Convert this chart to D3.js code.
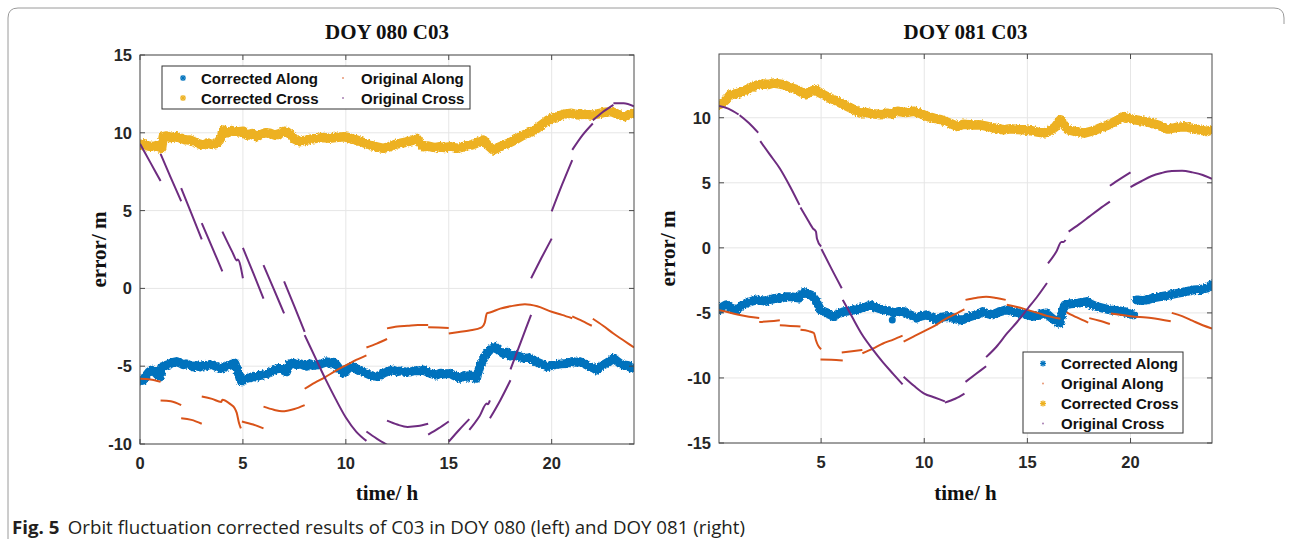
<!DOCTYPE html>
<html>
<head>
<meta charset="utf-8">
<script src="https://cdn.jsdelivr.net/npm/d3@7"></script>
<style>
  body { margin: 0; background: #fff; }
  svg { display: block; }
</style>
</head>
<body>
<svg id="fig" width="1290" height="539"></svg>
<script>
// ---------------- data (hours, metres) ----------------
const titles = ["DOY 080 C03", "DOY 081 C03"];
const xTicks080 = [0, 5, 10, 15, 20];
const yTicks080 = [-10, -5, 0, 5, 10, 15];
const xTicks081 = [5, 10, 15, 20];
const yTicks081 = [-15, -10, -5, 0, 5, 10];
const seriesNames = ["Corrected Along", "Original Along", "Corrected Cross", "Original Cross"];

// DOY 080 — corrected along-track error
const doy080CorrAlong = [
  [0.0,-5.95],[0.15,-5.9],[0.3,-5.6],[0.45,-5.35],[0.56,-5.25],[0.7,-5.35],[0.85,-5.55],[0.97,-5.7],
  [1.05,-5.05],[1.25,-4.95],[1.45,-4.85],[1.6,-4.75],[1.78,-4.7],[1.95,-4.8],[2.1,-4.9],[2.25,-4.85],
  [2.43,-4.95],[2.6,-5.05],[2.75,-4.95],[2.9,-5.05],[3.05,-4.95],[3.2,-5.0],[3.35,-4.9],[3.56,-4.93],
  [3.75,-5.05],[3.9,-5.15],[4.04,-5.1],[4.2,-5.0],[4.37,-4.93],[4.5,-4.85],[4.6,-4.8],[4.7,-5.1],
  [4.78,-5.45],[4.86,-5.8],[4.94,-6.0],[5.05,-5.85],[5.18,-5.78],[5.35,-5.75],[5.5,-5.65],[5.65,-5.7],
  [5.8,-5.6],[5.99,-5.57],[6.15,-5.5],[6.39,-5.36],[6.55,-5.2],[6.7,-5.15],[6.88,-5.14],[7.0,-5.3],
  [7.12,-5.36],[7.22,-5.0],[7.29,-4.82],[7.45,-4.8],[7.6,-4.9],[7.8,-4.85],[7.94,-4.93],[8.1,-5.0],
  [8.25,-4.85],[8.4,-4.95],[8.59,-4.93],[8.8,-4.85],[9.07,-4.71],[9.25,-4.85],[9.4,-4.75],[9.55,-4.93],
  [9.7,-5.2],[9.87,-5.46],[10.0,-5.3],[10.15,-5.1],[10.36,-5.03],[10.55,-5.2],[10.8,-5.35],[11.0,-5.46],
  [11.25,-5.6],[11.5,-5.67],[11.7,-5.55],[11.9,-5.4],[12.1,-5.3],[12.3,-5.25],[12.5,-5.35],[12.7,-5.3],
  [12.9,-5.4],[13.1,-5.36],[13.3,-5.3],[13.55,-5.3],[13.77,-5.25],[14.0,-5.4],[14.2,-5.5],[14.4,-5.57],
  [14.6,-5.45],[14.8,-5.5],[15.06,-5.46],[15.25,-5.6],[15.4,-5.7],[15.55,-5.78],[15.75,-5.6],[15.9,-5.7],
  [16.03,-5.57],[16.2,-5.7],[16.35,-5.78],[16.45,-5.3],[16.55,-4.9],[16.7,-4.5],[16.84,-4.18],[17.0,-3.95],
  [17.25,-3.75],[17.45,-4.0],[17.65,-4.18],[17.8,-4.1],[17.98,-4.35],[18.2,-4.3],[18.46,-4.39],[18.7,-4.5],
  [18.9,-4.45],[19.1,-4.6],[19.3,-4.75],[19.5,-4.85],[19.76,-5.03],[20.0,-4.95],[20.2,-4.9],[20.45,-4.85],
  [20.73,-4.82],[21.0,-4.7],[21.2,-4.75],[21.38,-4.71],[21.6,-4.85],[21.8,-5.0],[22.0,-5.1],[22.19,-5.25],
  [22.4,-5.0],[22.6,-4.85],[22.8,-4.7],[23.0,-4.5],[23.2,-4.7],[23.35,-4.85],[23.5,-4.93],[23.7,-4.95],
  [23.85,-5.1],[24.0,-5.14]
];

// DOY 080 — corrected cross-track error
const doy080CorrCross = [
  [0.0,9.2],[0.2,9.3],[0.4,9.15],[0.65,9.1],[0.85,9.2],[1.05,9.0],[1.13,9.75],[1.3,9.8],[1.5,9.7],
  [1.78,9.75],[2.0,9.65],[2.2,9.55],[2.43,9.54],[2.65,9.4],[2.85,9.3],[3.07,9.2],[3.3,9.35],[3.5,9.25],
  [3.72,9.32],[3.85,9.5],[3.96,9.75],[4.04,10.18],[4.25,10.0],[4.45,10.15],[4.7,10.05],[5.02,10.1],
  [5.2,9.85],[5.45,9.95],[5.67,9.75],[5.9,9.9],[6.1,10.0],[6.31,9.97],[6.55,9.85],[6.8,9.95],[7.0,10.1],
  [7.12,10.07],[7.3,9.9],[7.5,9.6],[7.77,9.43],[8.0,9.5],[8.3,9.6],[8.58,9.64],[8.9,9.7],[9.2,9.65],
  [9.5,9.7],[9.87,9.75],[10.1,9.7],[10.3,9.6],[10.52,9.54],[10.8,9.4],[11.0,9.3],[11.17,9.2],[11.5,9.1],
  [11.81,9.0],[12.1,9.1],[12.4,9.25],[12.63,9.32],[12.9,9.4],[13.2,9.5],[13.44,9.64],[13.6,9.35],
  [13.76,9.1],[14.0,9.15],[14.3,9.05],[14.57,9.1],[14.8,9.05],[15.1,9.1],[15.38,9.0],[15.6,9.05],
  [15.8,9.15],[16.03,9.2],[16.3,9.3],[16.5,9.45],[16.68,9.54],[16.9,9.2],[17.16,8.9],[17.4,9.05],
  [17.65,9.2],[17.85,9.3],[18.05,9.43],[18.3,9.6],[18.55,9.8],[18.8,9.95],[19.03,10.07],[19.3,10.3],
  [19.6,10.6],[19.8,10.8],[20.0,10.93],[20.3,11.05],[20.6,11.2],[20.97,11.25],[21.3,11.15],[21.6,11.2],
  [21.94,11.14],[22.2,11.2],[22.5,11.3],[22.91,11.36],[23.2,11.2],[23.56,11.04],[23.8,11.2],[24.0,11.25]
];

// DOY 080 — original along-track error, one array per arc
const doy080OrigAlong = [
  [[0,-5.8],[0.5,-5.85],[1.0,-6.0]],
  [[1.0,-7.2],[1.5,-7.25],[2.0,-7.5]],
  [[2.0,-8.35],[2.5,-8.45],[3.0,-8.7]],
  [[3.0,-6.95],[3.5,-7.1],[3.95,-7.3],[4.0,-7.15],[4.4,-7.45],[4.6,-7.7],[4.7,-8.0],[4.8,-8.6],[4.9,-9.0]],
  [[4.95,-8.55],[5.5,-8.75],[6.0,-9.0]],
  [[6.0,-7.6],[6.5,-7.8],[6.9,-7.9],[7.5,-7.75],[8.0,-7.5]],
  [[8.0,-6.45],[8.5,-6.05],[9.0,-5.7],[9.5,-5.3],[10.0,-4.95],[10.5,-4.6],[11.0,-4.3]],
  [[11.0,-3.8],[11.5,-3.55],[12.0,-3.25]],
  [[12.0,-2.57],[12.5,-2.45],[13.0,-2.4],[13.5,-2.35],[14.0,-2.35]],
  [[14.0,-2.5],[14.5,-2.52],[15.0,-2.55]],
  [[15.0,-2.9],[15.5,-2.8],[16.0,-2.7],[16.6,-2.5],[16.75,-2.2],[16.85,-1.6],[17.0,-1.55],[17.5,-1.3],
   [18.0,-1.15],[18.7,-1.02],[19.3,-1.15],[20.0,-1.5],[20.5,-1.7],[21.0,-1.92]],
  [[21.0,-1.8],[21.5,-2.1],[21.95,-2.4]],
  [[22.0,-1.95],[22.5,-2.4],[23.0,-2.9],[23.5,-3.35],[24.0,-3.8]]
];

// DOY 080 — original cross-track error, one array per arc
const doy080OrigCross = [
  [[0,9.3],[0.5,8.1],[1.0,6.9]],
  [[1.0,8.65],[1.5,7.1],[2.0,5.6]],
  [[2.0,6.45],[2.5,4.8],[3.0,3.15]],
  [[3.0,4.2],[3.5,2.65],[4.0,1.1]],
  [[4.0,3.65],[4.5,2.3],[4.7,1.8],[4.75,1.85],[5.0,0.65]],
  [[5.0,2.6],[5.5,1.0],[6.0,-0.65]],
  [[6.0,1.5],[6.5,-0.05],[7.0,-1.6]],
  [[7.0,0.45],[7.5,-1.15],[8.0,-2.8]],
  [[8.0,-3.0],[8.5,-4.4],[9.0,-5.8],[9.5,-7.1],[10.0,-8.3],[10.5,-9.2],[11.0,-9.8]],
  [[11.0,-9.2],[11.5,-9.65],[12.0,-10.05]],
  [[12.0,-8.5],[12.5,-8.75],[13.0,-8.9],[13.5,-8.85],[14.0,-8.7]],
  [[14.0,-9.4],[14.5,-9.0],[15.0,-8.55]],
  [[15.0,-9.85],[15.5,-9.1],[16.0,-8.4]],
  [[16.0,-9.1],[16.5,-8.2],[16.85,-7.4],[16.9,-7.45],[17.0,-7.2]],
  [[17.0,-8.35],[17.5,-7.2],[18.0,-5.9]],
  [[18.0,-5.2],[18.5,-3.45],[19.0,-1.7]],
  [[19.0,0.65],[19.5,1.95],[20.0,3.2]],
  [[20.0,4.95],[20.5,6.65],[21.0,8.25]],
  [[21.0,8.9],[21.5,9.85],[22.0,10.6]],
  [[22.0,10.8],[22.5,11.35],[23.0,11.8]],
  [[23.0,11.9],[23.5,11.9],[24.0,11.7]]
];

// DOY 081 — corrected along-track error (null = gap)
const doy081CorrAlong = [
  [0.07,-4.77],[0.25,-4.5],[0.4,-4.38],[0.6,-4.6],[0.9,-4.77],[1.05,-4.55],[1.2,-4.38],[1.45,-4.2],
  [1.65,-4.1],[1.88,-4.0],[2.1,-4.05],[2.37,-4.1],[2.6,-3.95],[2.86,-3.87],[3.1,-3.85],[3.3,-3.75],
  [3.5,-3.75],[3.7,-3.8],[3.93,-3.87],[4.05,-3.6],[4.15,-3.44],[4.3,-3.5],[4.48,-3.6],[4.6,-3.75],
  [4.72,-4.0],[4.85,-4.4],[4.97,-4.77],[5.15,-4.9],[5.3,-5.0],[5.45,-5.15],[5.6,-5.28],[5.8,-5.1],
  [6.1,-4.9],[6.3,-4.85],[6.5,-4.75],[6.75,-4.77],[6.95,-4.6],[7.15,-4.55],[7.4,-4.38],[7.6,-4.55],
  [7.8,-4.65],[8.05,-4.77],[8.3,-4.85],[8.53,-5.0],[8.75,-4.9],[9.0,-4.9],[9.2,-5.1],[9.4,-5.2],
  [9.62,-5.4],[9.85,-5.25],[10.1,-5.15],[10.35,-5.35],[10.6,-5.54],[10.8,-5.35],[11.0,-5.3],[11.25,-5.28],
  [11.5,-5.45],[11.7,-5.54],[11.9,-5.5],[12.1,-5.35],[12.4,-5.2],[12.6,-5.1],[12.83,-4.9],[13.05,-5.05],
  [13.3,-5.15],[13.6,-4.95],[13.97,-4.77],[14.2,-4.85],[14.4,-4.95],[14.6,-5.0],[14.85,-5.1],[15.1,-5.2],
  [15.42,-5.28],[15.65,-5.1],[15.9,-5.0],[16.1,-5.3],[16.3,-5.55],[16.45,-5.7],[16.57,-5.8],[16.68,-5.0],
  [16.82,-4.38],[17.1,-4.3],[17.4,-4.26],[17.65,-4.2],[17.88,-4.13],[18.1,-4.35],[18.37,-4.52],[18.7,-4.65],
  [19.0,-4.77],[19.3,-4.8],[19.67,-4.9],[19.9,-5.05],[20.15,-5.15],
  [20.22,null],
  [20.3,-4.0],[20.55,-4.05],[20.8,-4.0],[21.1,-3.85],[21.45,-3.75],[21.8,-3.65],[22.25,-3.5],[22.6,-3.4],
  [23.05,-3.23],[23.4,-3.2],[23.7,-3.1],[23.9,-2.85]
];
const doy081CorrAlongStray = [[8.45,-5.55]];

// DOY 081 — corrected cross-track error
const doy081CorrCross = [
  [0.05,11.0],[0.2,11.1],[0.4,11.38],[0.6,11.77],[0.9,11.85],[1.2,12.0],[1.5,12.25],[1.88,12.5],
  [2.2,12.6],[2.45,12.55],[2.7,12.67],[2.95,12.6],[3.18,12.54],[3.45,12.35],[3.65,12.25],[3.83,12.15],
  [4.05,11.95],[4.24,11.77],[4.45,12.0],[4.72,12.15],[4.95,11.9],[5.2,11.7],[5.45,11.5],[5.8,11.25],
  [6.1,11.0],[6.5,10.7],[6.9,10.36],[7.2,10.4],[7.5,10.3],[7.9,10.23],[8.2,10.35],[8.45,10.3],[8.7,10.5],
  [9.1,10.4],[9.5,10.5],[9.85,10.3],[10.15,10.1],[10.5,9.95],[10.8,9.85],[11.2,9.6],[11.6,9.33],
  [11.9,9.5],[12.3,9.45],[12.7,9.46],[13.0,9.35],[13.4,9.2],[13.85,9.08],[14.2,9.15],[14.5,9.1],
  [14.82,9.08],[15.2,9.0],[15.5,8.9],[15.8,8.82],[16.1,9.0],[16.35,9.3],[16.6,9.85],[16.75,9.5],
  [16.95,9.08],[17.3,8.95],[17.75,8.82],[18.2,9.0],[18.5,9.2],[18.72,9.33],[19.0,9.5],[19.35,9.8],
  [19.7,10.1],[19.95,9.95],[20.2,9.85],[20.6,9.75],[21.0,9.6],[21.4,9.4],[21.8,9.13],[22.2,9.25],
  [22.5,9.3],[22.75,9.28],[23.1,9.15],[23.4,9.05],[23.7,8.95],[23.95,9.08]
];

// DOY 081 — original along-track error, one array per arc
const doy081OrigAlong = [
  [[0.05,-4.8],[0.5,-4.95],[1.0,-5.15],[1.5,-5.3],[2.0,-5.4]],
  [[2.0,-5.7],[2.5,-5.65],[3.0,-5.57]],
  [[3.0,-5.95],[3.5,-6.0],[4.0,-6.05]],
  [[4.0,-6.3],[4.4,-6.4],[4.65,-6.55],[4.75,-7.1],[4.85,-7.5],[5.0,-7.8]],
  [[4.97,-8.58],[5.5,-8.6],[6.05,-8.65]],
  [[6.0,-8.05],[6.5,-7.95],[7.0,-7.85]],
  [[7.0,-8.1],[7.5,-7.75],[8.0,-7.35],[8.5,-7.05],[8.95,-6.75]],
  [[9.0,-7.2],[9.5,-6.8],[10.0,-6.4],[10.5,-6.0],[11.0,-5.5],[11.5,-5.1],[11.95,-4.72]],
  [[12.0,-4.0],[12.5,-3.85],[13.0,-3.75],[13.5,-3.85],[13.95,-4.0]],
  [[14.0,-4.38],[14.5,-4.55],[15.0,-4.77],[15.5,-5.0],[16.0,-5.25],[16.6,-5.45]],
  [[16.9,-4.95],[17.4,-5.35],[17.95,-5.75]],
  [[18.0,-5.4],[18.5,-5.6],[19.0,-5.85]],
  [[19.05,-5.05],[19.5,-5.15],[20.0,-5.25],[21.0,-5.4],[21.95,-5.65]],
  [[22.0,-5.0],[22.5,-5.25],[23.0,-5.6],[23.5,-5.95],[23.95,-6.2]]
];

// DOY 081 — original cross-track error, one array per arc
const doy081OrigCross = [
  [[0.05,10.9],[0.5,10.7],[1.0,10.25]],
  [[1.05,10.2],[1.5,9.6],[1.95,8.85]],
  [[2.05,8.2],[2.5,7.2],[3.0,6.1],[3.5,4.7],[3.95,3.3]],
  [[4.0,3.1],[4.3,2.3],[4.6,1.5],[4.75,1.25],[4.8,0.7],[5.0,0.1]],
  [[5.02,-0.1],[5.5,-1.6],[6.0,-3.1]],
  [[6.05,-4.0],[6.5,-5.3],[7.0,-6.7],[7.5,-7.8],[8.0,-8.8],[8.5,-9.7],[8.95,-10.5]],
  [[9.0,-9.9],[9.5,-10.6],[10.0,-11.2],[10.5,-11.5],[11.0,-11.8]],
  [[11.0,-11.9],[11.5,-11.6],[11.95,-11.2]],
  [[12.0,-10.3],[12.5,-9.7],[13.0,-9.1]],
  [[13.0,-8.4],[13.5,-7.6],[14.0,-6.6],[14.5,-5.7],[15.0,-4.7],[15.5,-3.7],[15.95,-2.7]],
  [[16.0,-1.2],[16.4,-0.3],[16.65,0.45],[16.75,0.45],[16.85,0.6]],
  [[17.0,1.25],[17.5,1.8],[18.0,2.4],[18.5,3.0],[19.0,3.55]],
  [[19.0,4.77],[19.5,5.3],[20.0,5.8]],
  [[20.0,4.67],[20.5,5.1],[21.0,5.5],[21.5,5.75],[22.0,5.9],[22.5,5.92],[23.0,5.8],[23.5,5.6],[23.95,5.3]]
];

// ---------------- styling ----------------
const COLORS = {
  corrAlong: "#0072BD",
  origAlong: "#D95319",
  corrCross: "#EDB120",
  origCross: "#6E2C80"
};
const SANS = "'Liberation Sans', Arial, Helvetica, sans-serif";
const SERIF = "'Liberation Serif', 'Times New Roman', serif";

const svg = d3.select("#fig");
svg.append("rect").attr("width", 1290).attr("height", 539).attr("fill", "#fff");

// roughened edge for the dense marker bands
const defs = svg.append("defs");
const rough = defs.append("filter").attr("id", "rough")
  .attr("x", "-5%").attr("y", "-50%").attr("width", "110%").attr("height", "200%");
rough.append("feTurbulence").attr("type", "fractalNoise").attr("baseFrequency", 0.55)
  .attr("numOctaves", 2).attr("seed", 3).attr("result", "noise");
rough.append("feDisplacementMap").attr("in", "SourceGraphic").attr("in2", "noise")
  .attr("scale", 3.5).attr("xChannelSelector", "R").attr("yChannelSelector", "G");

// page frame
svg.append("path")
  .attr("d", "M8,539 L8,18 Q8,8 18,8 L1274,8 Q1284,8 1284,18 L1284,24")
  .attr("fill", "none").attr("stroke", "#9a9a9a").attr("stroke-width", 1);

function drawPanel(cfg, idx) {
  const x = d3.scaleLinear().domain(cfg.xDomain).range([cfg.left, cfg.right]);
  const y = d3.scaleLinear().domain(cfg.yDomain).range([cfg.bottom, cfg.top]);
  const g = svg.append("g");
  const clipId = "clip" + idx;
  defs.append("clipPath").attr("id", clipId).append("rect")
    .attr("x", cfg.left).attr("y", cfg.top)
    .attr("width", cfg.right - cfg.left).attr("height", cfg.bottom - cfg.top);

  // grid
  const grid = g.append("g").attr("stroke", "#e6e6e6").attr("stroke-width", 1);
  cfg.xTicks.forEach(t => grid.append("line")
    .attr("x1", x(t)).attr("x2", x(t)).attr("y1", cfg.top).attr("y2", cfg.bottom));
  cfg.yTicks.forEach(t => grid.append("line")
    .attr("x1", cfg.left).attr("x2", cfg.right).attr("y1", y(t)).attr("y2", y(t)));

  const plot = g.append("g").attr("clip-path", `url(#${clipId})`);
  const band = d3.line().defined(d => d[1] !== null).x(d => x(d[0])).y(d => y(d[1]));
  const arc = d3.line().x(d => x(d[0])).y(d => y(d[1])).curve(d3.curveMonotoneX);

  // corrected along (dense markers -> thick band)
  plot.append("path").datum(cfg.corrAlong).attr("d", band)
    .attr("fill", "none").attr("stroke", COLORS.corrAlong).attr("stroke-width", 9)
    .attr("stroke-linejoin", "round").attr("stroke-linecap", "round").attr("filter", "url(#rough)");
  (cfg.stray || []).forEach(p => plot.append("circle")
    .attr("cx", x(p[0])).attr("cy", y(p[1])).attr("r", 3.5).attr("fill", COLORS.corrAlong));

  // original along arcs
  plot.selectAll(null).data(cfg.origAlong).enter().append("path").attr("d", arc)
    .attr("fill", "none").attr("stroke", COLORS.origAlong).attr("stroke-width", 2);

  // corrected cross
  plot.append("path").datum(cfg.corrCross).attr("d", band)
    .attr("fill", "none").attr("stroke", COLORS.corrCross).attr("stroke-width", 9.5)
    .attr("stroke-linejoin", "round").attr("stroke-linecap", "round").attr("filter", "url(#rough)");

  // original cross arcs
  plot.selectAll(null).data(cfg.origCross).enter().append("path").attr("d", arc)
    .attr("fill", "none").attr("stroke", COLORS.origCross).attr("stroke-width", 2);

  // axes box with inward ticks on all sides
  const axisCol = "#4a4a4a";
  g.append("rect").attr("x", cfg.left).attr("y", cfg.top)
    .attr("width", cfg.right - cfg.left).attr("height", cfg.bottom - cfg.top)
    .attr("fill", "none").attr("stroke", axisCol).attr("stroke-width", 1);
  const tl = 5;
  const ax = g.append("g").attr("stroke", axisCol).attr("stroke-width", 1);
  cfg.xTicks.forEach(t => {
    ax.append("line").attr("x1", x(t)).attr("x2", x(t)).attr("y1", cfg.bottom).attr("y2", cfg.bottom - tl);
    ax.append("line").attr("x1", x(t)).attr("x2", x(t)).attr("y1", cfg.top).attr("y2", cfg.top + tl);
  });
  cfg.yTicks.forEach(t => {
    ax.append("line").attr("x1", cfg.left).attr("x2", cfg.left + tl).attr("y1", y(t)).attr("y2", y(t));
    ax.append("line").attr("x1", cfg.right).attr("x2", cfg.right - tl).attr("y1", y(t)).attr("y2", y(t));
  });

  // tick labels
  g.selectAll(null).data(cfg.xTicks).enter().append("text")
    .attr("x", d => x(d)).attr("y", cfg.bottom + 19).attr("text-anchor", "middle")
    .attr("dominant-baseline", "central")
    .style("font", `bold 16.5px ${SANS}`).attr("fill", "#262626").text(d => d);
  g.selectAll(null).data(cfg.yTicks).enter().append("text")
    .attr("x", cfg.left - 8).attr("y", d => y(d)).attr("text-anchor", "end")
    .attr("dominant-baseline", "central")
    .style("font", `bold 16.5px ${SANS}`).attr("fill", "#262626").text(d => d);

  // title and axis labels
  const cx = (cfg.left + cfg.right) / 2;
  g.append("text").attr("x", cx).attr("y", 32).attr("text-anchor", "middle")
    .attr("dominant-baseline", "central")
    .style("font", `bold 21px ${SERIF}`).attr("fill", "#111").text(cfg.title);
  g.append("text").attr("x", cx).attr("y", 493).attr("text-anchor", "middle")
    .attr("dominant-baseline", "central")
    .style("font", `bold 21px ${SERIF}`).attr("fill", "#111").text("time/ h");
  g.append("text").attr("transform", `translate(${cfg.ylabelX},${(cfg.top + cfg.bottom) / 2}) rotate(-90)`)
    .attr("text-anchor", "middle").attr("dominant-baseline", "central")
    .style("font", `bold 21px ${SERIF}`).attr("fill", "#111").text("error/ m");

  // legend
  const L = cfg.legend;
  const lg = g.append("g");
  lg.append("rect").attr("x", L.x).attr("y", L.y).attr("width", L.w).attr("height", L.h)
    .attr("fill", "#fff").attr("stroke", "#333").attr("stroke-width", 1);
  const keys = ["corrAlong", "origAlong", "corrCross", "origCross"];
  L.slots.forEach((s, i) => {
    const key = keys[i];
    const mx = L.x + s[0], my = L.y + s[1];
    if (key.startsWith("corr")) {
      const star = lg.append("g").attr("stroke", COLORS[key]).attr("stroke-width", 1.3);
      [[-3, 0, 3, 0], [0, -3, 0, 3], [-2.2, -2.2, 2.2, 2.2], [-2.2, 2.2, 2.2, -2.2]].forEach(s2 =>
        star.append("line").attr("x1", mx + s2[0]).attr("y1", my + s2[1])
          .attr("x2", mx + s2[2]).attr("y2", my + s2[3]));
    } else {
      lg.append("circle").attr("cx", mx).attr("cy", my).attr("r", 1).attr("fill", COLORS[key]).attr("opacity", 0.6);
    }
    lg.append("text").attr("x", mx + L.textGap).attr("y", my).attr("dominant-baseline", "central")
      .style("font", `bold 15px ${SANS}`).attr("fill", "#111").text(seriesNames[i]);
  });
}

drawPanel({
  title: titles[0], left: 140, right: 634, top: 55, bottom: 444,
  xDomain: [0, 24], yDomain: [-10, 15], xTicks: xTicks080, yTicks: yTicks080,
  corrAlong: doy080CorrAlong, corrCross: doy080CorrCross,
  origAlong: doy080OrigAlong, origCross: doy080OrigCross,
  ylabelX: 99,
  legend: { x: 162, y: 66, w: 308, h: 43, textGap: 18,
            slots: [[21, 12], [181, 12], [21, 32], [181, 32]] }
}, 0);

drawPanel({
  title: titles[1], left: 719, right: 1212, top: 54, bottom: 443,
  xDomain: [0.05, 23.95], yDomain: [-15, 14.9], xTicks: xTicks081, yTicks: yTicks081,
  corrAlong: doy081CorrAlong, corrCross: doy081CorrCross,
  origAlong: doy081OrigAlong, origCross: doy081OrigCross, stray: doy081CorrAlongStray,
  ylabelX: 668,
  legend: { x: 1023, y: 352, w: 160, h: 81, textGap: 18,
            slots: [[20, 11.5], [20, 31.5], [20, 51.5], [20, 71.5]] }
}, 1);

// caption
const cap = svg.append("text").attr("x", 12).attr("y", 527).attr("dominant-baseline", "central")
  .attr("textLength", 733).attr("lengthAdjust", "spacingAndGlyphs")
  .style("font", `18px 'Open Sans', 'Noto Sans', sans-serif`).attr("fill", "#231f20");
cap.append("tspan").style("font-weight", "bold").text("Fig. 5");
cap.append("tspan").attr("dx", 8).text("Orbit fluctuation corrected results of C03 in DOY 080 (left) and DOY 081 (right)");
</script>
</body>
</html>
